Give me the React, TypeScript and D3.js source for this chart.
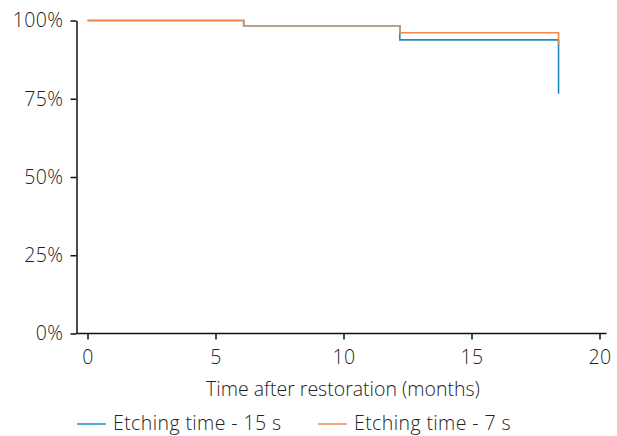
import React, { useEffect, useRef } from "react";
import * as d3 from "d3";

// Kaplan-Meier style survival steps (months, % surviving)
const series15Times = [0, 6.1, 12.2, 18.4, 18.4];
const series15Values = [100, 98.3, 93.8, 93.8, 76.6];
const series7Times = [0, 6.1, 12.2, 18.4, 18.4];
const series7Values = [100, 98.3, 96.1, 96.1, 92.3];
const xTicks = [0, 5, 10, 15, 20];
const yTicks = [0, 25, 50, 75, 100];
const seriesNames = ["Etching time - 15 s", "Etching time - 7 s"];
const seriesColors = ["#1b8cc0", "#ec8a4c"];

export default function App() {
  const svgRef = useRef<SVGSVGElement>(null);

  useEffect(() => {
    const width = 617;
    const height = 436;
    const svg = d3.select(svgRef.current).attr("width", width).attr("height", height);
    svg.selectAll("*").remove();

    const font = "'Open Sans', sans-serif";
    const fw = 300;
    const fs = 19.5;
    const ls = 0.4;
    const x = d3.scaleLinear().domain([-0.43, 20]).range([76.5, 599.5]);
    const y = d3.scaleLinear().domain([0, 100]).range([333.5, 20.5]);

    // y axis
    const yAxis = svg.append("g").attr("transform", `translate(${x(-0.43)},0)`)
      .call(d3.axisLeft(y).tickValues(yTicks).tickFormat((d) => `${d}%`).tickSize(6).tickSizeOuter(0));
    yAxis.select(".domain").attr("stroke", "#111").attr("stroke-width", 1.5);
    yAxis.selectAll(".tick line").attr("stroke", "#111").attr("stroke-width", 1.5);
    yAxis.selectAll(".tick text").attr("font-family", font).attr("font-size", fs).attr("font-weight", fw)
      .attr("letter-spacing", ls).attr("fill", "#222").attr("x", -13);

    // x axis
    const xAxis = svg.append("g").attr("transform", `translate(0,${y(0)})`)
      .call(d3.axisBottom(x).tickValues(xTicks).tickSize(6).tickSizeOuter(0));
    xAxis.select(".domain").attr("stroke", "#111").attr("stroke-width", 1.5)
      .attr("d", `M${x(-0.43)},0H${x(20) + 7}`);
    xAxis.selectAll(".tick line").attr("stroke", "#111").attr("stroke-width", 1.5);
    xAxis.selectAll(".tick text").attr("font-family", font).attr("font-size", fs).attr("font-weight", fw)
      .attr("letter-spacing", ls).attr("fill", "#222").attr("y", 30).attr("dy", 0);

    svg.append("text").attr("x", 343).attr("y", 396).attr("text-anchor", "middle")
      .attr("font-family", font).attr("font-size", fs).attr("font-weight", fw)
      .attr("fill", "#222")
      .text("Time after restoration (months)");

    const line = d3.line<[number, number]>()
      .x((d) => x(d[0])).y((d) => y(d[1])).curve(d3.curveStepAfter);

    const data15: [number, number][] = series15Times.map((t, i) => [t, series15Values[i]]);
    const data7: [number, number][] = series7Times.map((t, i) => [t, series7Values[i]]);

    [data15, data7].forEach((d, i) => {
      svg.append("path").datum(d).attr("d", line).attr("fill", "none")
        .attr("stroke", seriesColors[i]).attr("stroke-width", 1.6);
    });

    // legend
    const legendX = [77, 318];
    seriesNames.forEach((name, i) => {
      const g = svg.append("g").attr("transform", `translate(${legendX[i]},424)`);
      g.append("line").attr("x1", 0).attr("x2", 29).attr("y1", 0).attr("y2", 0)
        .attr("stroke", seriesColors[i]).attr("stroke-width", 1.5);
      g.append("text").attr("x", 36).attr("y", 6).attr("font-family", font).attr("font-size", fs)
        .attr("font-weight", fw).attr("letter-spacing", ls).attr("fill", "#222").text(name);
    });
  }, []);

  return <svg ref={svgRef} style={{ position: "absolute", left: 0, top: 0 }}></svg>;
}
